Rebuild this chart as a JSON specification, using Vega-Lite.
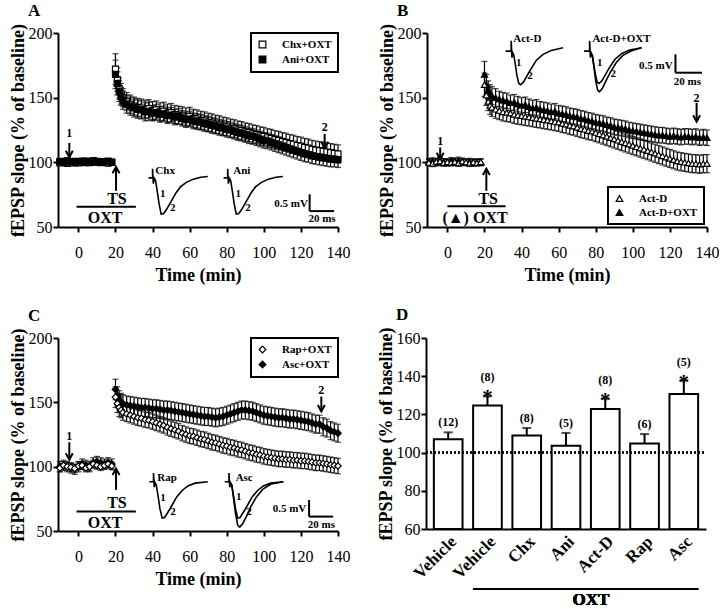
{
"$schema": "https://vega.github.io/schema/vega-lite/v6.json",
"padding": {"left": 9, "top": 2, "right": 0, "bottom": 0},
"config": {
 "font": "Liberation Serif",
 "view": {"stroke": null},
 "axis": {"domainColor": "black", "domainWidth": 2, "tickColor": "black", "tickWidth": 2, "tickSize": 5, "labelFont": "Liberation Serif", "labelFontSize": 16, "labelColor": "black", "labelOverlap": false, "labelFlush": false, "titleFont": "Liberation Serif", "titleFontSize": 18, "titleFontWeight": "bold", "titleColor": "black", "grid": false},
 "axisX": {"labelPadding": 12, "titlePadding": 6},
 "axisY": {"labelPadding": 1, "titlePadding": 1},
 "legend": {"labelFont": "Liberation Serif", "labelFontSize": 11, "labelFontWeight": "bold", "labelColor": "black", "strokeColor": "black", "strokeWidth": 2, "padding": 6, "symbolStrokeColor": "black", "symbolStrokeWidth": 1.2, "symbolSize": 45, "labelOffset": 14, "rowPadding": 2, "fillColor": "white"},
 "title": {"font": "Liberation Serif", "fontSize": 17, "fontWeight": "bold", "color": "black", "anchor": "start", "frame": "group", "dx": -30, "offset": 3},
 "text": {"font": "Liberation Serif", "fontWeight": "bold", "color": "black"}
},
"datasets": {
 "tsA": [
  {"s":"Chx+OXT","t":-10,"y":99.6,"e":2},{"s":"Chx+OXT","t":-8,"y":100.4,"e":2},{"s":"Chx+OXT","t":-6,"y":99.2,"e":2},{"s":"Chx+OXT","t":-4,"y":100.1,"e":2},{"s":"Chx+OXT","t":-2,"y":100.7,"e":2},{"s":"Chx+OXT","t":0,"y":99.5,"e":2},{"s":"Chx+OXT","t":2,"y":100.2,"e":2},{"s":"Chx+OXT","t":4,"y":100.9,"e":2},{"s":"Chx+OXT","t":6,"y":99.8,"e":2},{"s":"Chx+OXT","t":8,"y":100.3,"e":2},{"s":"Chx+OXT","t":10,"y":100.8,"e":2},{"s":"Chx+OXT","t":12,"y":99.9,"e":2},{"s":"Chx+OXT","t":14,"y":100.5,"e":2},{"s":"Chx+OXT","t":16,"y":99.4,"e":2},{"s":"Chx+OXT","t":18,"y":100,"e":2},
  {"s":"Chx+OXT","t":20,"y":172,"e":12},{"s":"Chx+OXT","t":21,"y":164,"e":9},{"s":"Chx+OXT","t":22,"y":157,"e":8},{"s":"Chx+OXT","t":23,"y":153,"e":8},{"s":"Chx+OXT","t":24,"y":150,"e":7},{"s":"Chx+OXT","t":26,"y":147,"e":7},{"s":"Chx+OXT","t":28,"y":145,"e":7},{"s":"Chx+OXT","t":30,"y":143.5,"e":7},{"s":"Chx+OXT","t":32,"y":142.5,"e":7},{"s":"Chx+OXT","t":34,"y":142,"e":7},{"s":"Chx+OXT","t":36,"y":141,"e":7},{"s":"Chx+OXT","t":38,"y":141.5,"e":7},{"s":"Chx+OXT","t":40,"y":140,"e":7},{"s":"Chx+OXT","t":42,"y":140.5,"e":7},{"s":"Chx+OXT","t":44,"y":139,"e":7},{"s":"Chx+OXT","t":46,"y":139.5,"e":7},{"s":"Chx+OXT","t":48,"y":138,"e":7},{"s":"Chx+OXT","t":50,"y":138.5,"e":7},{"s":"Chx+OXT","t":52,"y":137,"e":7},{"s":"Chx+OXT","t":54,"y":136.5,"e":7},{"s":"Chx+OXT","t":56,"y":136,"e":7},{"s":"Chx+OXT","t":58,"y":135,"e":7},{"s":"Chx+OXT","t":60,"y":135.5,"e":7},{"s":"Chx+OXT","t":62,"y":134,"e":7},{"s":"Chx+OXT","t":64,"y":133.5,"e":7},{"s":"Chx+OXT","t":66,"y":132.5,"e":7},{"s":"Chx+OXT","t":68,"y":132,"e":7},{"s":"Chx+OXT","t":70,"y":131,"e":7},{"s":"Chx+OXT","t":72,"y":130.5,"e":7},{"s":"Chx+OXT","t":74,"y":129.5,"e":7},{"s":"Chx+OXT","t":76,"y":129,"e":7},{"s":"Chx+OXT","t":78,"y":128,"e":7},{"s":"Chx+OXT","t":80,"y":127.5,"e":7},{"s":"Chx+OXT","t":82,"y":126.5,"e":7},{"s":"Chx+OXT","t":84,"y":126,"e":7},{"s":"Chx+OXT","t":86,"y":125,"e":7},{"s":"Chx+OXT","t":88,"y":124.5,"e":7},{"s":"Chx+OXT","t":90,"y":123.5,"e":7},{"s":"Chx+OXT","t":92,"y":123,"e":7},{"s":"Chx+OXT","t":94,"y":122,"e":7},{"s":"Chx+OXT","t":96,"y":121.5,"e":7},{"s":"Chx+OXT","t":98,"y":120.5,"e":7},{"s":"Chx+OXT","t":100,"y":120,"e":7},{"s":"Chx+OXT","t":102,"y":119,"e":7},{"s":"Chx+OXT","t":104,"y":118.5,"e":7},{"s":"Chx+OXT","t":106,"y":117.5,"e":7},{"s":"Chx+OXT","t":108,"y":117,"e":7},{"s":"Chx+OXT","t":110,"y":116,"e":7},{"s":"Chx+OXT","t":112,"y":115.5,"e":7},{"s":"Chx+OXT","t":114,"y":114.5,"e":7},{"s":"Chx+OXT","t":116,"y":114,"e":7},{"s":"Chx+OXT","t":118,"y":113,"e":7},{"s":"Chx+OXT","t":120,"y":112.5,"e":7},{"s":"Chx+OXT","t":122,"y":111.5,"e":7},{"s":"Chx+OXT","t":124,"y":111,"e":7},{"s":"Chx+OXT","t":126,"y":110,"e":7},{"s":"Chx+OXT","t":128,"y":109.5,"e":7},{"s":"Chx+OXT","t":130,"y":109,"e":7},{"s":"Chx+OXT","t":132,"y":108.5,"e":7},{"s":"Chx+OXT","t":134,"y":108,"e":7},{"s":"Chx+OXT","t":136,"y":107.5,"e":7},{"s":"Chx+OXT","t":138,"y":107,"e":7},{"s":"Chx+OXT","t":140,"y":106.5,"e":7},
  {"s":"Ani+OXT","t":-10,"y":100.8,"e":2},{"s":"Ani+OXT","t":-8,"y":100,"e":2},{"s":"Ani+OXT","t":-6,"y":101.2,"e":2},{"s":"Ani+OXT","t":-4,"y":100.3,"e":2},{"s":"Ani+OXT","t":-2,"y":99.6,"e":2},{"s":"Ani+OXT","t":0,"y":100.5,"e":2},{"s":"Ani+OXT","t":2,"y":101,"e":2},{"s":"Ani+OXT","t":4,"y":99.8,"e":2},{"s":"Ani+OXT","t":6,"y":100.6,"e":2},{"s":"Ani+OXT","t":8,"y":101.3,"e":2},{"s":"Ani+OXT","t":10,"y":100.1,"e":2},{"s":"Ani+OXT","t":12,"y":99.7,"e":2},{"s":"Ani+OXT","t":14,"y":100.4,"e":2},{"s":"Ani+OXT","t":16,"y":100.9,"e":2},{"s":"Ani+OXT","t":18,"y":100.2,"e":2},
  {"s":"Ani+OXT","t":20,"y":168,"e":11},{"s":"Ani+OXT","t":21,"y":161,"e":9},{"s":"Ani+OXT","t":22,"y":155,"e":8},{"s":"Ani+OXT","t":23,"y":151,"e":7},{"s":"Ani+OXT","t":24,"y":148,"e":7},{"s":"Ani+OXT","t":26,"y":145,"e":7},{"s":"Ani+OXT","t":28,"y":143.5,"e":7},{"s":"Ani+OXT","t":30,"y":142,"e":7},{"s":"Ani+OXT","t":32,"y":141,"e":7},{"s":"Ani+OXT","t":34,"y":140.5,"e":7},{"s":"Ani+OXT","t":36,"y":139,"e":7},{"s":"Ani+OXT","t":38,"y":139.5,"e":7},{"s":"Ani+OXT","t":40,"y":138,"e":6},{"s":"Ani+OXT","t":42,"y":138.5,"e":6},{"s":"Ani+OXT","t":44,"y":137,"e":6},{"s":"Ani+OXT","t":46,"y":137.5,"e":6},{"s":"Ani+OXT","t":48,"y":136,"e":6},{"s":"Ani+OXT","t":50,"y":136.5,"e":6},{"s":"Ani+OXT","t":52,"y":135,"e":6},{"s":"Ani+OXT","t":54,"y":135.5,"e":6},{"s":"Ani+OXT","t":56,"y":134,"e":6},{"s":"Ani+OXT","t":58,"y":133,"e":6},{"s":"Ani+OXT","t":60,"y":133.5,"e":6},{"s":"Ani+OXT","t":62,"y":132,"e":6},{"s":"Ani+OXT","t":64,"y":131.5,"e":6},{"s":"Ani+OXT","t":66,"y":131,"e":6},{"s":"Ani+OXT","t":68,"y":130,"e":6},{"s":"Ani+OXT","t":70,"y":129.5,"e":6},{"s":"Ani+OXT","t":72,"y":128.5,"e":6},{"s":"Ani+OXT","t":74,"y":128,"e":6},{"s":"Ani+OXT","t":76,"y":127,"e":6},{"s":"Ani+OXT","t":78,"y":126.5,"e":6},{"s":"Ani+OXT","t":80,"y":125.5,"e":6},{"s":"Ani+OXT","t":82,"y":125,"e":6},{"s":"Ani+OXT","t":84,"y":124,"e":6},{"s":"Ani+OXT","t":86,"y":123,"e":6},{"s":"Ani+OXT","t":88,"y":122.5,"e":6},{"s":"Ani+OXT","t":90,"y":121.5,"e":6},{"s":"Ani+OXT","t":92,"y":120.5,"e":6},{"s":"Ani+OXT","t":94,"y":120,"e":6},{"s":"Ani+OXT","t":96,"y":119,"e":6},{"s":"Ani+OXT","t":98,"y":118,"e":6},{"s":"Ani+OXT","t":100,"y":117,"e":6},{"s":"Ani+OXT","t":102,"y":116.5,"e":6},{"s":"Ani+OXT","t":104,"y":115.5,"e":6},{"s":"Ani+OXT","t":106,"y":114.5,"e":6},{"s":"Ani+OXT","t":108,"y":113.5,"e":6},{"s":"Ani+OXT","t":110,"y":112.5,"e":6},{"s":"Ani+OXT","t":112,"y":111.5,"e":6},{"s":"Ani+OXT","t":114,"y":110.5,"e":6},{"s":"Ani+OXT","t":116,"y":109.5,"e":6},{"s":"Ani+OXT","t":118,"y":108.5,"e":6},{"s":"Ani+OXT","t":120,"y":107.5,"e":6},{"s":"Ani+OXT","t":122,"y":106.5,"e":6},{"s":"Ani+OXT","t":124,"y":106,"e":6},{"s":"Ani+OXT","t":126,"y":105,"e":6},{"s":"Ani+OXT","t":128,"y":104.5,"e":6},{"s":"Ani+OXT","t":130,"y":104,"e":6},{"s":"Ani+OXT","t":132,"y":103.5,"e":6},{"s":"Ani+OXT","t":134,"y":103,"e":6},{"s":"Ani+OXT","t":136,"y":102.5,"e":6},{"s":"Ani+OXT","t":138,"y":102.5,"e":6},{"s":"Ani+OXT","t":140,"y":102,"e":6}
 ],
 "tsB": [
  {"s":"Act-D+OXT","t":-10,"y":100.5,"e":2.5},{"s":"Act-D+OXT","t":-8,"y":101,"e":2.5},{"s":"Act-D+OXT","t":-6,"y":99.8,"e":2.5},{"s":"Act-D+OXT","t":-4,"y":101.5,"e":2.5},{"s":"Act-D+OXT","t":-2,"y":100.4,"e":2.5},{"s":"Act-D+OXT","t":0,"y":99.6,"e":2.5},{"s":"Act-D+OXT","t":2,"y":101.2,"e":2.5},{"s":"Act-D+OXT","t":4,"y":100.8,"e":2.5},{"s":"Act-D+OXT","t":6,"y":101.5,"e":2.5},{"s":"Act-D+OXT","t":8,"y":100.3,"e":2.5},{"s":"Act-D+OXT","t":10,"y":99.9,"e":2.5},{"s":"Act-D+OXT","t":12,"y":100.6,"e":2.5},{"s":"Act-D+OXT","t":14,"y":99.5,"e":2.5},{"s":"Act-D+OXT","t":16,"y":100.2,"e":2.5},{"s":"Act-D+OXT","t":18,"y":99.8,"e":2.5},
  {"s":"Act-D+OXT","t":20,"y":168,"e":10},{"s":"Act-D+OXT","t":21,"y":160,"e":8},{"s":"Act-D+OXT","t":22,"y":156,"e":7},{"s":"Act-D+OXT","t":23,"y":153,"e":7},{"s":"Act-D+OXT","t":24,"y":151.5,"e":7},{"s":"Act-D+OXT","t":26,"y":150,"e":7},{"s":"Act-D+OXT","t":28,"y":149,"e":6},{"s":"Act-D+OXT","t":30,"y":148,"e":6},{"s":"Act-D+OXT","t":32,"y":147.5,"e":6},{"s":"Act-D+OXT","t":34,"y":146,"e":6},{"s":"Act-D+OXT","t":36,"y":146.5,"e":6},{"s":"Act-D+OXT","t":38,"y":145,"e":6},{"s":"Act-D+OXT","t":40,"y":144,"e":6},{"s":"Act-D+OXT","t":42,"y":144.5,"e":6},{"s":"Act-D+OXT","t":44,"y":143,"e":6},{"s":"Act-D+OXT","t":46,"y":142,"e":6},{"s":"Act-D+OXT","t":48,"y":142.5,"e":6},{"s":"Act-D+OXT","t":50,"y":141,"e":6},{"s":"Act-D+OXT","t":52,"y":140.5,"e":6},{"s":"Act-D+OXT","t":54,"y":140,"e":6},{"s":"Act-D+OXT","t":56,"y":139,"e":6},{"s":"Act-D+OXT","t":58,"y":139.5,"e":6},{"s":"Act-D+OXT","t":60,"y":138,"e":6},{"s":"Act-D+OXT","t":62,"y":137.5,"e":6},{"s":"Act-D+OXT","t":64,"y":137,"e":6},{"s":"Act-D+OXT","t":66,"y":136,"e":6},{"s":"Act-D+OXT","t":68,"y":135.5,"e":6},{"s":"Act-D+OXT","t":70,"y":135,"e":6},{"s":"Act-D+OXT","t":72,"y":134,"e":6},{"s":"Act-D+OXT","t":74,"y":133.5,"e":6},{"s":"Act-D+OXT","t":76,"y":132.5,"e":6},{"s":"Act-D+OXT","t":78,"y":132,"e":6},{"s":"Act-D+OXT","t":80,"y":131,"e":6},{"s":"Act-D+OXT","t":82,"y":130.5,"e":6},{"s":"Act-D+OXT","t":84,"y":130,"e":6},{"s":"Act-D+OXT","t":86,"y":129,"e":6},{"s":"Act-D+OXT","t":88,"y":128.5,"e":6},{"s":"Act-D+OXT","t":90,"y":127.5,"e":6},{"s":"Act-D+OXT","t":92,"y":127,"e":6},{"s":"Act-D+OXT","t":94,"y":126.5,"e":6},{"s":"Act-D+OXT","t":96,"y":126,"e":6},{"s":"Act-D+OXT","t":98,"y":125,"e":6},{"s":"Act-D+OXT","t":100,"y":124.5,"e":6},{"s":"Act-D+OXT","t":102,"y":124,"e":6},{"s":"Act-D+OXT","t":104,"y":123.5,"e":6},{"s":"Act-D+OXT","t":106,"y":123,"e":6},{"s":"Act-D+OXT","t":108,"y":122.5,"e":6},{"s":"Act-D+OXT","t":110,"y":122,"e":6},{"s":"Act-D+OXT","t":112,"y":121.5,"e":6},{"s":"Act-D+OXT","t":114,"y":121,"e":6},{"s":"Act-D+OXT","t":116,"y":121,"e":6},{"s":"Act-D+OXT","t":118,"y":120.5,"e":6},{"s":"Act-D+OXT","t":120,"y":120,"e":6},{"s":"Act-D+OXT","t":122,"y":120.5,"e":6},{"s":"Act-D+OXT","t":124,"y":120,"e":6},{"s":"Act-D+OXT","t":126,"y":119.5,"e":6},{"s":"Act-D+OXT","t":128,"y":120,"e":6},{"s":"Act-D+OXT","t":130,"y":120,"e":6},{"s":"Act-D+OXT","t":132,"y":119.5,"e":6},{"s":"Act-D+OXT","t":134,"y":120,"e":6},{"s":"Act-D+OXT","t":136,"y":119,"e":6},{"s":"Act-D+OXT","t":138,"y":119.5,"e":6},{"s":"Act-D+OXT","t":140,"y":119,"e":6},
  {"s":"Act-D","t":-10,"y":99.8,"e":2.5},{"s":"Act-D","t":-8,"y":99.2,"e":2.5},{"s":"Act-D","t":-6,"y":100.6,"e":2.5},{"s":"Act-D","t":-4,"y":100.9,"e":2.5},{"s":"Act-D","t":-2,"y":99.5,"e":2.5},{"s":"Act-D","t":0,"y":100.3,"e":2.5},{"s":"Act-D","t":2,"y":99.7,"e":2.5},{"s":"Act-D","t":4,"y":100.5,"e":2.5},{"s":"Act-D","t":6,"y":99.4,"e":2.5},{"s":"Act-D","t":8,"y":100.8,"e":2.5},{"s":"Act-D","t":10,"y":100.1,"e":2.5},{"s":"Act-D","t":12,"y":99.3,"e":2.5},{"s":"Act-D","t":14,"y":100.2,"e":2.5},{"s":"Act-D","t":16,"y":99.6,"e":2.5},{"s":"Act-D","t":18,"y":100.4,"e":2.5},
  {"s":"Act-D","t":20,"y":160,"e":9},{"s":"Act-D","t":21,"y":152,"e":8},{"s":"Act-D","t":22,"y":147,"e":7},{"s":"Act-D","t":23,"y":144,"e":7},{"s":"Act-D","t":24,"y":142.5,"e":7},{"s":"Act-D","t":26,"y":141,"e":7},{"s":"Act-D","t":28,"y":140,"e":7},{"s":"Act-D","t":30,"y":139,"e":7},{"s":"Act-D","t":32,"y":138.5,"e":7},{"s":"Act-D","t":34,"y":138,"e":7},{"s":"Act-D","t":36,"y":137,"e":7},{"s":"Act-D","t":38,"y":136.5,"e":7},{"s":"Act-D","t":40,"y":136,"e":7},{"s":"Act-D","t":42,"y":135.5,"e":7},{"s":"Act-D","t":44,"y":135,"e":7},{"s":"Act-D","t":46,"y":134.5,"e":7},{"s":"Act-D","t":48,"y":134,"e":7},{"s":"Act-D","t":50,"y":133.5,"e":7},{"s":"Act-D","t":52,"y":133,"e":7},{"s":"Act-D","t":54,"y":132.5,"e":7},{"s":"Act-D","t":56,"y":132,"e":7},{"s":"Act-D","t":58,"y":131.5,"e":7},{"s":"Act-D","t":60,"y":131,"e":7},{"s":"Act-D","t":62,"y":130,"e":7},{"s":"Act-D","t":64,"y":129.5,"e":7},{"s":"Act-D","t":66,"y":128.5,"e":7},{"s":"Act-D","t":68,"y":128,"e":7},{"s":"Act-D","t":70,"y":127,"e":7},{"s":"Act-D","t":72,"y":126,"e":7},{"s":"Act-D","t":74,"y":125.5,"e":7},{"s":"Act-D","t":76,"y":124.5,"e":7},{"s":"Act-D","t":78,"y":124,"e":7},{"s":"Act-D","t":80,"y":123,"e":7},{"s":"Act-D","t":82,"y":122,"e":7},{"s":"Act-D","t":84,"y":121,"e":7},{"s":"Act-D","t":86,"y":120,"e":7},{"s":"Act-D","t":88,"y":119,"e":7},{"s":"Act-D","t":90,"y":118,"e":7},{"s":"Act-D","t":92,"y":117,"e":7},{"s":"Act-D","t":94,"y":116,"e":7},{"s":"Act-D","t":96,"y":115,"e":7},{"s":"Act-D","t":98,"y":114,"e":7},{"s":"Act-D","t":100,"y":113,"e":7},{"s":"Act-D","t":102,"y":112,"e":7},{"s":"Act-D","t":104,"y":111,"e":7},{"s":"Act-D","t":106,"y":110,"e":7},{"s":"Act-D","t":108,"y":109,"e":7},{"s":"Act-D","t":110,"y":108,"e":7},{"s":"Act-D","t":112,"y":107,"e":7},{"s":"Act-D","t":114,"y":106,"e":7},{"s":"Act-D","t":116,"y":105,"e":7},{"s":"Act-D","t":118,"y":104,"e":7},{"s":"Act-D","t":120,"y":103,"e":7},{"s":"Act-D","t":122,"y":102,"e":7},{"s":"Act-D","t":124,"y":101,"e":7},{"s":"Act-D","t":126,"y":100.5,"e":7},{"s":"Act-D","t":128,"y":100,"e":7},{"s":"Act-D","t":130,"y":99.5,"e":7},{"s":"Act-D","t":132,"y":99,"e":7},{"s":"Act-D","t":134,"y":99,"e":7},{"s":"Act-D","t":136,"y":98.5,"e":7},{"s":"Act-D","t":138,"y":99,"e":7},{"s":"Act-D","t":140,"y":99,"e":7}
 ],
 "tsC": [
  {"s":"Asc+OXT","t":-10,"y":100,"e":4},{"s":"Asc+OXT","t":-8,"y":101,"e":4},{"s":"Asc+OXT","t":-6,"y":100,"e":4},{"s":"Asc+OXT","t":-4,"y":99,"e":4},{"s":"Asc+OXT","t":-2,"y":98,"e":4},{"s":"Asc+OXT","t":0,"y":100,"e":4},{"s":"Asc+OXT","t":2,"y":102,"e":4},{"s":"Asc+OXT","t":4,"y":101,"e":4},{"s":"Asc+OXT","t":6,"y":100,"e":4},{"s":"Asc+OXT","t":8,"y":103,"e":4},{"s":"Asc+OXT","t":10,"y":104,"e":4},{"s":"Asc+OXT","t":12,"y":103,"e":4},{"s":"Asc+OXT","t":14,"y":102,"e":4},{"s":"Asc+OXT","t":16,"y":103,"e":4},{"s":"Asc+OXT","t":18,"y":102,"e":4},
  {"s":"Asc+OXT","t":20,"y":160,"e":8},{"s":"Asc+OXT","t":21,"y":155,"e":7},{"s":"Asc+OXT","t":22,"y":152,"e":7},{"s":"Asc+OXT","t":23,"y":150,"e":7},{"s":"Asc+OXT","t":24,"y":149,"e":7},{"s":"Asc+OXT","t":26,"y":148,"e":7},{"s":"Asc+OXT","t":28,"y":147.5,"e":7},{"s":"Asc+OXT","t":30,"y":147,"e":7},{"s":"Asc+OXT","t":32,"y":146.5,"e":7},{"s":"Asc+OXT","t":34,"y":146,"e":7},{"s":"Asc+OXT","t":36,"y":146,"e":7},{"s":"Asc+OXT","t":38,"y":145.5,"e":7},{"s":"Asc+OXT","t":40,"y":145,"e":7},{"s":"Asc+OXT","t":42,"y":145,"e":7},{"s":"Asc+OXT","t":44,"y":144.5,"e":7},{"s":"Asc+OXT","t":46,"y":144,"e":7},{"s":"Asc+OXT","t":48,"y":144,"e":7},{"s":"Asc+OXT","t":50,"y":143.5,"e":7},{"s":"Asc+OXT","t":52,"y":143,"e":7},{"s":"Asc+OXT","t":54,"y":142.5,"e":7},{"s":"Asc+OXT","t":56,"y":142,"e":7},{"s":"Asc+OXT","t":58,"y":141.5,"e":7},{"s":"Asc+OXT","t":60,"y":141,"e":7},{"s":"Asc+OXT","t":62,"y":140.5,"e":7},{"s":"Asc+OXT","t":64,"y":140,"e":7},{"s":"Asc+OXT","t":66,"y":139.5,"e":7},{"s":"Asc+OXT","t":68,"y":139,"e":7},{"s":"Asc+OXT","t":70,"y":139,"e":7},{"s":"Asc+OXT","t":72,"y":138.5,"e":7},{"s":"Asc+OXT","t":74,"y":138,"e":7},{"s":"Asc+OXT","t":76,"y":138.5,"e":7},{"s":"Asc+OXT","t":78,"y":139,"e":7},{"s":"Asc+OXT","t":80,"y":140,"e":7},{"s":"Asc+OXT","t":82,"y":141,"e":7},{"s":"Asc+OXT","t":84,"y":142,"e":7},{"s":"Asc+OXT","t":86,"y":143,"e":7},{"s":"Asc+OXT","t":88,"y":144,"e":7},{"s":"Asc+OXT","t":90,"y":144,"e":7},{"s":"Asc+OXT","t":92,"y":143.5,"e":7},{"s":"Asc+OXT","t":94,"y":143,"e":7},{"s":"Asc+OXT","t":96,"y":142,"e":7},{"s":"Asc+OXT","t":98,"y":141,"e":7},{"s":"Asc+OXT","t":100,"y":140,"e":7},{"s":"Asc+OXT","t":102,"y":139.5,"e":7},{"s":"Asc+OXT","t":104,"y":139,"e":7},{"s":"Asc+OXT","t":106,"y":138.5,"e":7},{"s":"Asc+OXT","t":108,"y":138,"e":7},{"s":"Asc+OXT","t":110,"y":138,"e":7},{"s":"Asc+OXT","t":112,"y":137.5,"e":7},{"s":"Asc+OXT","t":114,"y":137,"e":7},{"s":"Asc+OXT","t":116,"y":137,"e":7},{"s":"Asc+OXT","t":118,"y":136.5,"e":7},{"s":"Asc+OXT","t":120,"y":136,"e":7},{"s":"Asc+OXT","t":122,"y":135.5,"e":7},{"s":"Asc+OXT","t":124,"y":135,"e":7},{"s":"Asc+OXT","t":126,"y":134,"e":7},{"s":"Asc+OXT","t":128,"y":133,"e":7},{"s":"Asc+OXT","t":130,"y":133,"e":7},{"s":"Asc+OXT","t":132,"y":131,"e":7},{"s":"Asc+OXT","t":134,"y":130,"e":7},{"s":"Asc+OXT","t":136,"y":128,"e":7},{"s":"Asc+OXT","t":138,"y":127,"e":7},{"s":"Asc+OXT","t":140,"y":126,"e":7},
  {"s":"Rap+OXT","t":-10,"y":99,"e":3},{"s":"Rap+OXT","t":-8,"y":101,"e":3},{"s":"Rap+OXT","t":-6,"y":100,"e":3},{"s":"Rap+OXT","t":-4,"y":99.5,"e":3},{"s":"Rap+OXT","t":-2,"y":98.5,"e":3},{"s":"Rap+OXT","t":0,"y":100.5,"e":3},{"s":"Rap+OXT","t":2,"y":101,"e":3},{"s":"Rap+OXT","t":4,"y":99,"e":3},{"s":"Rap+OXT","t":6,"y":100,"e":3},{"s":"Rap+OXT","t":8,"y":102,"e":3},{"s":"Rap+OXT","t":10,"y":101,"e":3},{"s":"Rap+OXT","t":12,"y":100,"e":3},{"s":"Rap+OXT","t":14,"y":101,"e":3},{"s":"Rap+OXT","t":16,"y":102,"e":3},{"s":"Rap+OXT","t":18,"y":100.5,"e":3},
  {"s":"Rap+OXT","t":20,"y":154,"e":8},{"s":"Rap+OXT","t":21,"y":149,"e":7},{"s":"Rap+OXT","t":22,"y":146,"e":7},{"s":"Rap+OXT","t":23,"y":144,"e":6},{"s":"Rap+OXT","t":24,"y":142,"e":6},{"s":"Rap+OXT","t":26,"y":141,"e":6},{"s":"Rap+OXT","t":28,"y":140,"e":6},{"s":"Rap+OXT","t":30,"y":139,"e":6},{"s":"Rap+OXT","t":32,"y":138,"e":6},{"s":"Rap+OXT","t":34,"y":137.5,"e":6},{"s":"Rap+OXT","t":36,"y":136.5,"e":6},{"s":"Rap+OXT","t":38,"y":136,"e":6},{"s":"Rap+OXT","t":40,"y":135,"e":6},{"s":"Rap+OXT","t":42,"y":134,"e":6},{"s":"Rap+OXT","t":44,"y":133,"e":6},{"s":"Rap+OXT","t":46,"y":132,"e":6},{"s":"Rap+OXT","t":48,"y":130.5,"e":6},{"s":"Rap+OXT","t":50,"y":129.5,"e":6},{"s":"Rap+OXT","t":52,"y":128.5,"e":6},{"s":"Rap+OXT","t":54,"y":127.5,"e":6},{"s":"Rap+OXT","t":56,"y":126,"e":6},{"s":"Rap+OXT","t":58,"y":125,"e":6},{"s":"Rap+OXT","t":60,"y":124,"e":6},{"s":"Rap+OXT","t":62,"y":123.5,"e":6},{"s":"Rap+OXT","t":64,"y":122.5,"e":6},{"s":"Rap+OXT","t":66,"y":121.5,"e":6},{"s":"Rap+OXT","t":68,"y":121,"e":6},{"s":"Rap+OXT","t":70,"y":120,"e":6},{"s":"Rap+OXT","t":72,"y":119,"e":6},{"s":"Rap+OXT","t":74,"y":118.5,"e":6},{"s":"Rap+OXT","t":76,"y":117.5,"e":6},{"s":"Rap+OXT","t":78,"y":116.5,"e":6},{"s":"Rap+OXT","t":80,"y":116,"e":6},{"s":"Rap+OXT","t":82,"y":115,"e":6},{"s":"Rap+OXT","t":84,"y":114.5,"e":6},{"s":"Rap+OXT","t":86,"y":113.5,"e":6},{"s":"Rap+OXT","t":88,"y":113,"e":6},{"s":"Rap+OXT","t":90,"y":112,"e":6},{"s":"Rap+OXT","t":92,"y":111,"e":6},{"s":"Rap+OXT","t":94,"y":110.5,"e":6},{"s":"Rap+OXT","t":96,"y":109.5,"e":6},{"s":"Rap+OXT","t":98,"y":109,"e":6},{"s":"Rap+OXT","t":100,"y":108,"e":6},{"s":"Rap+OXT","t":102,"y":107.5,"e":6},{"s":"Rap+OXT","t":104,"y":107,"e":6},{"s":"Rap+OXT","t":106,"y":106.5,"e":6},{"s":"Rap+OXT","t":108,"y":106,"e":6},{"s":"Rap+OXT","t":110,"y":106,"e":6},{"s":"Rap+OXT","t":112,"y":105.5,"e":6},{"s":"Rap+OXT","t":114,"y":105.5,"e":6},{"s":"Rap+OXT","t":116,"y":105,"e":6},{"s":"Rap+OXT","t":118,"y":105,"e":6},{"s":"Rap+OXT","t":120,"y":104.5,"e":6},{"s":"Rap+OXT","t":122,"y":104.5,"e":6},{"s":"Rap+OXT","t":124,"y":104,"e":6},{"s":"Rap+OXT","t":126,"y":103.5,"e":6},{"s":"Rap+OXT","t":128,"y":103,"e":6},{"s":"Rap+OXT","t":130,"y":103,"e":6},{"s":"Rap+OXT","t":132,"y":102.5,"e":6},{"s":"Rap+OXT","t":134,"y":102,"e":6},{"s":"Rap+OXT","t":136,"y":101.5,"e":6},{"s":"Rap+OXT","t":138,"y":101,"e":6},{"s":"Rap+OXT","t":140,"y":100.5,"e":6}
 ],
 "ann": [
  {"p":"A","k":"seg","t":-4.9,"y":115,"t2":-4.9,"y2":104},{"p":"A","k":"seg","t":132.8,"y":122,"t2":132.8,"y2":111},{"p":"A","k":"seg","t":20.3,"y":78,"t2":20.3,"y2":96.5},{"p":"A","k":"seg","t":-1,"y":65.7,"t2":31,"y2":65.7},{"p":"A","k":"seg","t":124.7,"y":75.3,"t2":124.7,"y2":62.3},{"p":"A","k":"seg","t":124.7,"y":62.3,"t2":137.9,"y2":62.3},
  {"p":"A","k":"hd","t":-4.9,"y":104},{"p":"A","k":"hd","t":132.8,"y":111},{"p":"A","k":"hu","t":20.3,"y":96.5},
  {"p":"A","k":"n","t":-4.9,"y":123,"txt":"1"},{"p":"A","k":"n","t":132.8,"y":127,"txt":"2"},
  {"p":"A","k":"big","t":20.8,"y":72,"txt":"TS"},{"p":"A","k":"big","t":14.4,"y":57,"txt":"OXT"},
  {"p":"A","k":"sl","t":41.5,"y":93.5,"txt":"Chx"},{"p":"A","k":"sl","t":83.5,"y":93.5,"txt":"Ani"},
  {"p":"A","k":"sc","t":45.5,"y":75.3,"txt":"1"},{"p":"A","k":"sc","t":50.9,"y":65,"txt":"2"},{"p":"A","k":"sc","t":86.2,"y":75.3,"txt":"1"},{"p":"A","k":"sc","t":91.4,"y":65,"txt":"2"},{"p":"A","k":"sc","t":131.4,"y":56,"txt":"20 ms"},
  {"p":"A","k":"sr","t":123.8,"y":68,"txt":"0.5 mV"},
  {"p":"A","k":"tr","g":"A1","t":37.8,"y":88},{"p":"A","k":"tr","g":"A1","t":40,"y":88},{"p":"A","k":"tr","g":"A1","t":40,"y":95},{"p":"A","k":"tr","g":"A1","t":40.4,"y":83.5},{"p":"A","k":"tr","g":"A1","t":41,"y":87.5},{"p":"A","k":"tr","g":"A1","t":41.6,"y":86},{"p":"A","k":"tr","g":"A1","t":42.5,"y":78},{"p":"A","k":"tr","g":"A1","t":43.5,"y":68},{"p":"A","k":"tr","g":"A1","t":44.6,"y":60},{"p":"A","k":"tr","g":"A1","t":46,"y":60.5},{"p":"A","k":"tr","g":"A1","t":47.5,"y":63.5},{"p":"A","k":"tr","g":"A1","t":49.1,"y":67.5},{"p":"A","k":"tr","g":"A1","t":52.7,"y":76.5},{"p":"A","k":"tr","g":"A1","t":55,"y":81},{"p":"A","k":"tr","g":"A1","t":58.2,"y":84.5},{"p":"A","k":"tr","g":"A1","t":62,"y":87},{"p":"A","k":"tr","g":"A1","t":66,"y":88.5},{"p":"A","k":"tr","g":"A1","t":69.8,"y":89},
  {"p":"A","k":"tr","g":"A2","t":78.3,"y":88},{"p":"A","k":"tr","g":"A2","t":80.5,"y":88},{"p":"A","k":"tr","g":"A2","t":80.5,"y":95},{"p":"A","k":"tr","g":"A2","t":80.9,"y":83.5},{"p":"A","k":"tr","g":"A2","t":81.5,"y":87.5},{"p":"A","k":"tr","g":"A2","t":82.1,"y":86},{"p":"A","k":"tr","g":"A2","t":83,"y":78},{"p":"A","k":"tr","g":"A2","t":84,"y":68},{"p":"A","k":"tr","g":"A2","t":85.1,"y":60},{"p":"A","k":"tr","g":"A2","t":86.5,"y":60.5},{"p":"A","k":"tr","g":"A2","t":88,"y":63.5},{"p":"A","k":"tr","g":"A2","t":89.6,"y":67.5},{"p":"A","k":"tr","g":"A2","t":93.2,"y":76.5},{"p":"A","k":"tr","g":"A2","t":95.5,"y":81},{"p":"A","k":"tr","g":"A2","t":98.7,"y":84.5},{"p":"A","k":"tr","g":"A2","t":102.5,"y":87},{"p":"A","k":"tr","g":"A2","t":106.5,"y":88.5},{"p":"A","k":"tr","g":"A2","t":110.3,"y":89},
  {"p":"B","k":"seg","t":-3.9,"y":111.5,"t2":-3.9,"y2":102.5},{"p":"B","k":"seg","t":134.4,"y":146,"t2":134.4,"y2":131.5},{"p":"B","k":"seg","t":21,"y":78,"t2":21,"y2":95},{"p":"B","k":"seg","t":0,"y":66,"t2":31.4,"y2":66},{"p":"B","k":"seg","t":123,"y":183.5,"t2":123,"y2":169.3},{"p":"B","k":"seg","t":123,"y":169.3,"t2":137.3,"y2":169.3},
  {"p":"B","k":"hd","t":-3.9,"y":102.5},{"p":"B","k":"hd","t":134.4,"y":131.5},{"p":"B","k":"hu","t":21,"y":95},
  {"p":"B","k":"n","t":-3.9,"y":116.5,"txt":"1"},{"p":"B","k":"n","t":134.4,"y":150,"txt":"2"},
  {"p":"B","k":"big","t":22,"y":71.4,"txt":"TS"},{"p":"B","k":"big","t":14.9,"y":57.2,"txt":"(▲) OXT"},
  {"p":"B","k":"sl","t":35.5,"y":195,"txt":"Act-D"},{"p":"B","k":"sl","t":78.2,"y":195,"txt":"Act-D+OXT"},
  {"p":"B","k":"sc","t":38.5,"y":177,"txt":"1"},{"p":"B","k":"sc","t":44.5,"y":166.7,"txt":"2"},{"p":"B","k":"sc","t":82.1,"y":177,"txt":"1"},{"p":"B","k":"sc","t":89.5,"y":168,"txt":"2"},{"p":"B","k":"sc","t":129.4,"y":162,"txt":"20 ms"},
  {"p":"B","k":"sr","t":121.5,"y":174.5,"txt":"0.5 mV"},
  {"p":"B","k":"tr","g":"B1","t":31.4,"y":186},{"p":"B","k":"tr","g":"B1","t":34.4,"y":186},{"p":"B","k":"tr","g":"B1","t":34.4,"y":194},{"p":"B","k":"tr","g":"B1","t":34.8,"y":181},{"p":"B","k":"tr","g":"B1","t":35.3,"y":184.5},{"p":"B","k":"tr","g":"B1","t":35.8,"y":183},{"p":"B","k":"tr","g":"B1","t":36.6,"y":176},{"p":"B","k":"tr","g":"B1","t":37.5,"y":167},{"p":"B","k":"tr","g":"B1","t":38.5,"y":161},{"p":"B","k":"tr","g":"B1","t":39.5,"y":160},{"p":"B","k":"tr","g":"B1","t":41,"y":162},{"p":"B","k":"tr","g":"B1","t":43,"y":167},{"p":"B","k":"tr","g":"B1","t":45,"y":172},{"p":"B","k":"tr","g":"B1","t":48,"y":179},{"p":"B","k":"tr","g":"B1","t":51.6,"y":183.5},{"p":"B","k":"tr","g":"B1","t":56,"y":186.5},{"p":"B","k":"tr","g":"B1","t":62.4,"y":188.6},
  {"p":"B","k":"tr","g":"B2","t":73.7,"y":186},{"p":"B","k":"tr","g":"B2","t":76.7,"y":186},{"p":"B","k":"tr","g":"B2","t":76.7,"y":194},{"p":"B","k":"tr","g":"B2","t":77.1,"y":181},{"p":"B","k":"tr","g":"B2","t":77.6,"y":184.5},{"p":"B","k":"tr","g":"B2","t":78.1,"y":183},{"p":"B","k":"tr","g":"B2","t":78.9,"y":176},{"p":"B","k":"tr","g":"B2","t":79.8,"y":168},{"p":"B","k":"tr","g":"B2","t":80.8,"y":162},{"p":"B","k":"tr","g":"B2","t":81.8,"y":161},{"p":"B","k":"tr","g":"B2","t":83.3,"y":163},{"p":"B","k":"tr","g":"B2","t":85.3,"y":168},{"p":"B","k":"tr","g":"B2","t":87.3,"y":173},{"p":"B","k":"tr","g":"B2","t":90.3,"y":179.5},{"p":"B","k":"tr","g":"B2","t":93.9,"y":184},{"p":"B","k":"tr","g":"B2","t":98.3,"y":186.8},{"p":"B","k":"tr","g":"B2","t":104.7,"y":188.6},
  {"p":"B","k":"tr","g":"B3","t":78.1,"y":183},{"p":"B","k":"tr","g":"B3","t":79,"y":174},{"p":"B","k":"tr","g":"B3","t":80,"y":163},{"p":"B","k":"tr","g":"B3","t":81,"y":156},{"p":"B","k":"tr","g":"B3","t":82,"y":154.5},{"p":"B","k":"tr","g":"B3","t":83.5,"y":157},{"p":"B","k":"tr","g":"B3","t":85.5,"y":163},{"p":"B","k":"tr","g":"B3","t":88,"y":170},{"p":"B","k":"tr","g":"B3","t":91,"y":177},{"p":"B","k":"tr","g":"B3","t":94.5,"y":182.5},{"p":"B","k":"tr","g":"B3","t":99,"y":186},{"p":"B","k":"tr","g":"B3","t":104.7,"y":188.6},
  {"p":"C","k":"seg","t":-4.9,"y":119,"t2":-4.9,"y2":105.5},{"p":"C","k":"seg","t":131,"y":154.5,"t2":131,"y2":143},{"p":"C","k":"seg","t":20.3,"y":82,"t2":20.3,"y2":98.5},{"p":"C","k":"seg","t":-1,"y":65.1,"t2":31,"y2":65.1},{"p":"C","k":"seg","t":124.4,"y":74.1,"t2":124.4,"y2":61.2},{"p":"C","k":"seg","t":124.4,"y":61.2,"t2":137.4,"y2":61.2},
  {"p":"C","k":"hd","t":-4.9,"y":105.5},{"p":"C","k":"hd","t":131,"y":143},{"p":"C","k":"hu","t":20.3,"y":98.5},
  {"p":"C","k":"n","t":-4.9,"y":123.5,"txt":"1"},{"p":"C","k":"n","t":131,"y":159.6,"txt":"2"},
  {"p":"C","k":"big","t":20.8,"y":71.6,"txt":"TS"},{"p":"C","k":"big","t":14.4,"y":56.5,"txt":"OXT"},
  {"p":"C","k":"sl","t":42.5,"y":91.5,"txt":"Rap"},{"p":"C","k":"sl","t":84.8,"y":91.5,"txt":"Asc"},
  {"p":"C","k":"sc","t":45.6,"y":75.5,"txt":"1"},{"p":"C","k":"sc","t":51,"y":65.1,"txt":"2"},{"p":"C","k":"sc","t":86.5,"y":76.8,"txt":"1"},{"p":"C","k":"sc","t":92,"y":65,"txt":"2"},{"p":"C","k":"sc","t":131,"y":54.7,"txt":"20 ms"},
  {"p":"C","k":"sr","t":122.9,"y":66.9,"txt":"0.5 mV"},
  {"p":"C","k":"tr","g":"C1","t":38.2,"y":88.3},{"p":"C","k":"tr","g":"C1","t":40.5,"y":88.3},{"p":"C","k":"tr","g":"C1","t":40.5,"y":95},{"p":"C","k":"tr","g":"C1","t":40.9,"y":84},{"p":"C","k":"tr","g":"C1","t":41.4,"y":87.5},{"p":"C","k":"tr","g":"C1","t":42,"y":86},{"p":"C","k":"tr","g":"C1","t":43,"y":77},{"p":"C","k":"tr","g":"C1","t":44,"y":67},{"p":"C","k":"tr","g":"C1","t":45.2,"y":60},{"p":"C","k":"tr","g":"C1","t":46.5,"y":60.5},{"p":"C","k":"tr","g":"C1","t":48,"y":64},{"p":"C","k":"tr","g":"C1","t":49.5,"y":67.5},{"p":"C","k":"tr","g":"C1","t":53,"y":76.5},{"p":"C","k":"tr","g":"C1","t":56,"y":81.5},{"p":"C","k":"tr","g":"C1","t":59,"y":85},{"p":"C","k":"tr","g":"C1","t":63,"y":87.2},{"p":"C","k":"tr","g":"C1","t":69.8,"y":88.3},
  {"p":"C","k":"tr","g":"C2","t":78.9,"y":88.3},{"p":"C","k":"tr","g":"C2","t":81.2,"y":88.3},{"p":"C","k":"tr","g":"C2","t":81.2,"y":95},{"p":"C","k":"tr","g":"C2","t":81.6,"y":84},{"p":"C","k":"tr","g":"C2","t":82.1,"y":87.5},{"p":"C","k":"tr","g":"C2","t":82.7,"y":86},{"p":"C","k":"tr","g":"C2","t":83.7,"y":77},{"p":"C","k":"tr","g":"C2","t":84.7,"y":67.5},{"p":"C","k":"tr","g":"C2","t":85.9,"y":60},{"p":"C","k":"tr","g":"C2","t":87.2,"y":60.5},{"p":"C","k":"tr","g":"C2","t":88.7,"y":64},{"p":"C","k":"tr","g":"C2","t":90.2,"y":67.5},{"p":"C","k":"tr","g":"C2","t":93.7,"y":76.5},{"p":"C","k":"tr","g":"C2","t":96.7,"y":81.5},{"p":"C","k":"tr","g":"C2","t":99.7,"y":85},{"p":"C","k":"tr","g":"C2","t":103.7,"y":87.2},{"p":"C","k":"tr","g":"C2","t":110.5,"y":88.3},
  {"p":"C","k":"tr","g":"C3","t":82.7,"y":86},{"p":"C","k":"tr","g":"C3","t":83.7,"y":75},{"p":"C","k":"tr","g":"C3","t":84.7,"y":64},{"p":"C","k":"tr","g":"C3","t":85.9,"y":54.5},{"p":"C","k":"tr","g":"C3","t":87,"y":53},{"p":"C","k":"tr","g":"C3","t":88.5,"y":55.5},{"p":"C","k":"tr","g":"C3","t":90.5,"y":61},{"p":"C","k":"tr","g":"C3","t":93,"y":69},{"p":"C","k":"tr","g":"C3","t":96,"y":76.5},{"p":"C","k":"tr","g":"C3","t":99.5,"y":82.5},{"p":"C","k":"tr","g":"C3","t":104,"y":86.5},{"p":"C","k":"tr","g":"C3","t":110.5,"y":88.3}
 ],
 "bars": [
  {"g":"Vehicle","m":107,"hi":110.6,"n":"(12)","star":false},
  {"g":"Vehicle+OXT","m":124.6,"hi":129.5,"n":"(8)","star":true},
  {"g":"Chx","m":109,"hi":112.9,"n":"(8)","star":false},
  {"g":"Ani","m":103.6,"hi":110.3,"n":"(5)","star":false},
  {"g":"Act-D","m":122.8,"hi":128.2,"n":"(8)","star":true},
  {"g":"Rap","m":104.7,"hi":109.7,"n":"(6)","star":false},
  {"g":"Asc","m":130.7,"hi":137.7,"n":"(5)","star":true}
 ]
},
"resolve": {"scale": {"fill": "independent", "shape": "independent", "stroke": "independent", "x": "independent", "y": "independent"}, "legend": {"fill": "independent", "shape": "independent", "stroke": "independent"}},
"spacing": 21,
"vconcat": [
 {
  "spacing": 28,
  "resolve": {"scale": {"fill": "independent", "shape": "independent", "stroke": "independent", "x": "independent", "y": "independent"}, "legend": {"fill": "independent", "shape": "independent", "stroke": "independent"}},
  "hconcat": [
   {
    "title": "A", "width": 280, "height": 194,
    "encoding": {
     "x": {"field": "t", "type": "quantitative", "scale": {"domain": [-11, 140], "nice": false, "zero": false}, "axis": {"values": [0, 20, 40, 60, 80, 100, 120, 140], "title": "Time (min)"}},
     "y": {"field": "y", "type": "quantitative", "scale": {"domain": [50, 200], "nice": false, "zero": false}, "axis": {"values": [50, 100, 150, 200], "title": "fEPSP slope (% of baseline)"}}
    },
    "layer": [
     {"data": {"values": [{}]}, "mark": {"type": "rule", "strokeDash": [2, 2], "strokeWidth": 1.5, "color": "black"}, "encoding": {"x": {"datum": 20, "type": "quantitative"}, "x2": {"datum": 140}, "y": {"datum": 100, "type": "quantitative"}}},
     {"data": {"name": "ann"}, "transform": [{"filter": "datum.p=='A' && datum.k=='seg'"}], "mark": {"type": "rule", "strokeWidth": 2, "color": "black"}, "encoding": {"x2": {"field": "t2"}, "y2": {"field": "y2"}}},
     {"data": {"name": "ann"}, "transform": [{"filter": "datum.p=='A' && datum.k=='tr'"}], "mark": {"type": "line", "strokeWidth": 1.6, "color": "black"}, "encoding": {"detail": {"field": "g"}, "order": {"value": null}}},
     {"data": {"name": "ann"}, "transform": [{"filter": "datum.p=='A' && datum.k=='hd'"}], "mark": {"type": "point", "shape": "M-1,-1.8L0,0L1,-1.8", "size": 49, "filled": false, "stroke": "black", "strokeWidth": 2, "opacity": 1}},
     {"data": {"name": "ann"}, "transform": [{"filter": "datum.p=='A' && datum.k=='hu'"}], "mark": {"type": "point", "shape": "M-1,1.8L0,0L1,1.8", "size": 49, "filled": false, "stroke": "black", "strokeWidth": 2, "opacity": 1}},
     {"data": {"name": "tsA"}, "mark": {"type": "errorbar", "ticks": {"size": 6, "thickness": 1.2}, "thickness": 1.2, "color": "black"}, "encoding": {"yError": {"field": "e"}}},
     {"data": {"name": "tsA"}, "mark": {"type": "point", "filled": true, "strokeWidth": 1.2, "size": 36, "opacity": 1}, "encoding": {
       "fill": {"field": "s", "type": "nominal", "scale": {"domain": ["Chx+OXT", "Ani+OXT"], "range": ["white", "black"]}, "legend": {"title": null, "orient": "top-right", "offset": 0}},
       "stroke": {"field": "s", "type": "nominal", "scale": {"domain": ["Chx+OXT", "Ani+OXT"], "range": ["black", "black"]}, "legend": {"title": null, "orient": "top-right", "offset": 0}},
       "shape": {"field": "s", "type": "nominal", "scale": {"domain": ["Chx+OXT", "Ani+OXT"], "range": ["square", "square"]}, "legend": {"title": null, "orient": "top-right", "offset": 0}}}},
     {"data": {"name": "ann"}, "transform": [{"filter": "datum.p=='A' && datum.k=='big'"}], "mark": {"type": "text", "fontSize": 16, "align": "center", "baseline": "middle"}, "encoding": {"text": {"field": "txt"}}},
     {"data": {"name": "ann"}, "transform": [{"filter": "datum.p=='A' && datum.k=='n'"}], "mark": {"type": "text", "fontSize": 12, "align": "center", "baseline": "middle"}, "encoding": {"text": {"field": "txt"}}},
     {"data": {"name": "ann"}, "transform": [{"filter": "datum.p=='A' && datum.k=='sc'"}], "mark": {"type": "text", "fontSize": 11, "align": "center", "baseline": "middle"}, "encoding": {"text": {"field": "txt"}}},
     {"data": {"name": "ann"}, "transform": [{"filter": "datum.p=='A' && datum.k=='sl'"}], "mark": {"type": "text", "fontSize": 11, "align": "left", "baseline": "middle"}, "encoding": {"text": {"field": "txt"}}},
     {"data": {"name": "ann"}, "transform": [{"filter": "datum.p=='A' && datum.k=='sr'"}], "mark": {"type": "text", "fontSize": 11, "align": "right", "baseline": "middle"}, "encoding": {"text": {"field": "txt"}}}
    ]
   },
   {
    "title": "B", "width": 280, "height": 194,
    "encoding": {
     "x": {"field": "t", "type": "quantitative", "scale": {"domain": [-11, 140], "nice": false, "zero": false}, "axis": {"values": [0, 20, 40, 60, 80, 100, 120, 140], "title": "Time (min)"}},
     "y": {"field": "y", "type": "quantitative", "scale": {"domain": [50, 200], "nice": false, "zero": false}, "axis": {"values": [50, 100, 150, 200], "title": "fEPSP slope (% of baseline)"}}
    },
    "layer": [
     {"data": {"values": [{}]}, "mark": {"type": "rule", "strokeDash": [2, 2], "strokeWidth": 1.5, "color": "black"}, "encoding": {"x": {"datum": 20, "type": "quantitative"}, "x2": {"datum": 140}, "y": {"datum": 100, "type": "quantitative"}}},
     {"data": {"name": "ann"}, "transform": [{"filter": "datum.p=='B' && datum.k=='seg'"}], "mark": {"type": "rule", "strokeWidth": 2, "color": "black"}, "encoding": {"x2": {"field": "t2"}, "y2": {"field": "y2"}}},
     {"data": {"name": "ann"}, "transform": [{"filter": "datum.p=='B' && datum.k=='tr'"}], "mark": {"type": "line", "strokeWidth": 1.6, "color": "black"}, "encoding": {"detail": {"field": "g"}, "order": {"value": null}}},
     {"data": {"name": "ann"}, "transform": [{"filter": "datum.p=='B' && datum.k=='hd'"}], "mark": {"type": "point", "shape": "M-1,-1.8L0,0L1,-1.8", "size": 49, "filled": false, "stroke": "black", "strokeWidth": 2, "opacity": 1}},
     {"data": {"name": "ann"}, "transform": [{"filter": "datum.p=='B' && datum.k=='hu'"}], "mark": {"type": "point", "shape": "M-1,1.8L0,0L1,1.8", "size": 49, "filled": false, "stroke": "black", "strokeWidth": 2, "opacity": 1}},
     {"data": {"name": "tsB"}, "mark": {"type": "errorbar", "ticks": {"size": 6, "thickness": 1.2}, "thickness": 1.2, "color": "black"}, "encoding": {"yError": {"field": "e"}}},
     {"data": {"name": "tsB"}, "mark": {"type": "point", "filled": true, "strokeWidth": 1.2, "size": 38, "opacity": 1}, "encoding": {
       "fill": {"field": "s", "type": "nominal", "scale": {"domain": ["Act-D", "Act-D+OXT"], "range": ["white", "black"]}, "legend": {"title": null, "orient": "bottom-right", "offset": 3}},
       "stroke": {"field": "s", "type": "nominal", "scale": {"domain": ["Act-D", "Act-D+OXT"], "range": ["black", "black"]}, "legend": {"title": null, "orient": "bottom-right", "offset": 3}},
       "shape": {"field": "s", "type": "nominal", "scale": {"domain": ["Act-D", "Act-D+OXT"], "range": ["triangle-up", "triangle-up"]}, "legend": {"title": null, "orient": "bottom-right", "offset": 3}}}},
     {"data": {"name": "ann"}, "transform": [{"filter": "datum.p=='B' && datum.k=='big'"}], "mark": {"type": "text", "fontSize": 16, "align": "center", "baseline": "middle"}, "encoding": {"text": {"field": "txt"}}},
     {"data": {"name": "ann"}, "transform": [{"filter": "datum.p=='B' && datum.k=='n'"}], "mark": {"type": "text", "fontSize": 12, "align": "center", "baseline": "middle"}, "encoding": {"text": {"field": "txt"}}},
     {"data": {"name": "ann"}, "transform": [{"filter": "datum.p=='B' && datum.k=='sc'"}], "mark": {"type": "text", "fontSize": 11, "align": "center", "baseline": "middle"}, "encoding": {"text": {"field": "txt"}}},
     {"data": {"name": "ann"}, "transform": [{"filter": "datum.p=='B' && datum.k=='sl'"}], "mark": {"type": "text", "fontSize": 11, "align": "left", "baseline": "middle"}, "encoding": {"text": {"field": "txt"}}},
     {"data": {"name": "ann"}, "transform": [{"filter": "datum.p=='B' && datum.k=='sr'"}], "mark": {"type": "text", "fontSize": 11, "align": "right", "baseline": "middle"}, "encoding": {"text": {"field": "txt"}}}
    ]
   }
  ]
 },
 {
  "spacing": 27,
  "resolve": {"scale": {"fill": "independent", "shape": "independent", "stroke": "independent", "x": "independent", "y": "independent"}, "legend": {"fill": "independent", "shape": "independent", "stroke": "independent"}},
  "hconcat": [
   {
    "title": "C", "width": 280, "height": 193,
    "encoding": {
     "x": {"field": "t", "type": "quantitative", "scale": {"domain": [-11, 140], "nice": false, "zero": false}, "axis": {"values": [0, 20, 40, 60, 80, 100, 120, 140], "title": "Time (min)"}},
     "y": {"field": "y", "type": "quantitative", "scale": {"domain": [50, 200], "nice": false, "zero": false}, "axis": {"values": [50, 100, 150, 200], "title": "fEPSP slope (% of baseline)"}}
    },
    "layer": [
     {"data": {"values": [{}]}, "mark": {"type": "rule", "strokeDash": [2, 2], "strokeWidth": 1.5, "color": "black"}, "encoding": {"x": {"datum": 20, "type": "quantitative"}, "x2": {"datum": 140}, "y": {"datum": 100, "type": "quantitative"}}},
     {"data": {"name": "ann"}, "transform": [{"filter": "datum.p=='C' && datum.k=='seg'"}], "mark": {"type": "rule", "strokeWidth": 2, "color": "black"}, "encoding": {"x2": {"field": "t2"}, "y2": {"field": "y2"}}},
     {"data": {"name": "ann"}, "transform": [{"filter": "datum.p=='C' && datum.k=='tr'"}], "mark": {"type": "line", "strokeWidth": 1.6, "color": "black"}, "encoding": {"detail": {"field": "g"}, "order": {"value": null}}},
     {"data": {"name": "ann"}, "transform": [{"filter": "datum.p=='C' && datum.k=='hd'"}], "mark": {"type": "point", "shape": "M-1,-1.8L0,0L1,-1.8", "size": 49, "filled": false, "stroke": "black", "strokeWidth": 2, "opacity": 1}},
     {"data": {"name": "ann"}, "transform": [{"filter": "datum.p=='C' && datum.k=='hu'"}], "mark": {"type": "point", "shape": "M-1,1.8L0,0L1,1.8", "size": 49, "filled": false, "stroke": "black", "strokeWidth": 2, "opacity": 1}},
     {"data": {"name": "tsC"}, "mark": {"type": "errorbar", "ticks": {"size": 6, "thickness": 1.2}, "thickness": 1.2, "color": "black"}, "encoding": {"yError": {"field": "e"}}},
     {"data": {"name": "tsC"}, "mark": {"type": "point", "filled": true, "strokeWidth": 1.2, "size": 42, "opacity": 1}, "encoding": {
       "fill": {"field": "s", "type": "nominal", "scale": {"domain": ["Rap+OXT", "Asc+OXT"], "range": ["white", "black"]}, "legend": {"title": null, "orient": "top-right", "offset": 0}},
       "stroke": {"field": "s", "type": "nominal", "scale": {"domain": ["Rap+OXT", "Asc+OXT"], "range": ["black", "black"]}, "legend": {"title": null, "orient": "top-right", "offset": 0}},
       "shape": {"field": "s", "type": "nominal", "scale": {"domain": ["Rap+OXT", "Asc+OXT"], "range": ["diamond", "diamond"]}, "legend": {"title": null, "orient": "top-right", "offset": 0}}}},
     {"data": {"name": "ann"}, "transform": [{"filter": "datum.p=='C' && datum.k=='big'"}], "mark": {"type": "text", "fontSize": 16, "align": "center", "baseline": "middle"}, "encoding": {"text": {"field": "txt"}}},
     {"data": {"name": "ann"}, "transform": [{"filter": "datum.p=='C' && datum.k=='n'"}], "mark": {"type": "text", "fontSize": 12, "align": "center", "baseline": "middle"}, "encoding": {"text": {"field": "txt"}}},
     {"data": {"name": "ann"}, "transform": [{"filter": "datum.p=='C' && datum.k=='sc'"}], "mark": {"type": "text", "fontSize": 11, "align": "center", "baseline": "middle"}, "encoding": {"text": {"field": "txt"}}},
     {"data": {"name": "ann"}, "transform": [{"filter": "datum.p=='C' && datum.k=='sl'"}], "mark": {"type": "text", "fontSize": 11, "align": "left", "baseline": "middle"}, "encoding": {"text": {"field": "txt"}}},
     {"data": {"name": "ann"}, "transform": [{"filter": "datum.p=='C' && datum.k=='sr'"}], "mark": {"type": "text", "fontSize": 11, "align": "right", "baseline": "middle"}, "encoding": {"text": {"field": "txt"}}}
    ]
   },
   {
    "title": "D", "width": 280, "height": 191,
    "layer": [
     {
      "data": {"name": "bars"},
      "encoding": {
       "x": {"field": "g", "type": "nominal", "scale": {"domain": ["Vehicle", "Vehicle+OXT", "Chx", "Ani", "Act-D", "Rap", "Asc"], "paddingInner": 0.27, "paddingOuter": 0.2}, "axis": {"title": null, "labelAngle": -45, "labelFontWeight": "bold", "labelFontSize": 17, "ticks": false, "labelPadding": 4, "labelExpr": "replace(datum.label, '+OXT', '')"}},
       "y": {"field": "m", "type": "quantitative", "scale": {"domain": [60, 160], "nice": false, "zero": false}, "axis": {"values": [60, 80, 100, 120, 140, 160], "tickCount": 6, "labelOverlap": false, "title": "fEPSP slope (% of baseline)"}}
      },
      "layer": [
       {"mark": {"type": "rule", "strokeWidth": 2, "color": "black"}, "encoding": {"y2": {"field": "hi"}}},
       {"mark": {"type": "tick", "size": 9, "thickness": 2, "color": "black"}, "encoding": {"y": {"field": "hi", "type": "quantitative", "scale": {"domain": [60, 160], "nice": false, "zero": false}, "axis": {"values": [60, 80, 100, 120, 140, 160], "tickCount": 6, "labelOverlap": false, "title": "fEPSP slope (% of baseline)"}}}},
       {"mark": {"type": "bar", "fill": "white", "stroke": "black", "strokeWidth": 2}, "encoding": {"y2": {"datum": 60}}},
       {"transform": [{"filter": "!datum.star"}], "mark": {"type": "text", "fontSize": 12, "baseline": "bottom", "dy": -3}, "encoding": {"y": {"field": "hi", "type": "quantitative", "scale": {"domain": [60, 160], "nice": false, "zero": false}, "axis": {"values": [60, 80, 100, 120, 140, 160], "tickCount": 6, "labelOverlap": false, "title": "fEPSP slope (% of baseline)"}}, "text": {"field": "n"}}},
       {"transform": [{"filter": "datum.star"}], "mark": {"type": "text", "fontSize": 12, "baseline": "bottom", "dy": -12}, "encoding": {"y": {"field": "hi", "type": "quantitative", "scale": {"domain": [60, 160], "nice": false, "zero": false}, "axis": {"values": [60, 80, 100, 120, 140, 160], "tickCount": 6, "labelOverlap": false, "title": "fEPSP slope (% of baseline)"}}, "text": {"field": "n"}}},
       {"transform": [{"filter": "datum.star"}], "mark": {"type": "text", "fontSize": 21, "baseline": "alphabetic", "dy": 8}, "encoding": {"y": {"field": "hi", "type": "quantitative", "scale": {"domain": [60, 160], "nice": false, "zero": false}, "axis": {"values": [60, 80, 100, 120, 140, 160], "tickCount": 6, "labelOverlap": false, "title": "fEPSP slope (% of baseline)"}}, "text": {"value": "*"}}},
       {"mark": {"type": "rule", "strokeDash": [2, 2], "strokeWidth": 1.5, "color": "black"}, "encoding": {"x": {"value": 0}, "x2": {"value": 280}, "y": {"datum": 100, "type": "quantitative", "scale": {"domain": [60, 160], "nice": false, "zero": false}, "axis": {"values": [60, 80, 100, 120, 140, 160], "tickCount": 6, "labelOverlap": false, "title": "fEPSP slope (% of baseline)"}}}},
       {"mark": {"type": "rule", "strokeWidth": 2, "color": "black"}, "encoding": {"x": {"datum": "Vehicle+OXT", "type": "nominal", "bandPosition": 0, "scale": {"domain": ["Vehicle", "Vehicle+OXT", "Chx", "Ani", "Act-D", "Rap", "Asc"], "paddingInner": 0.27, "paddingOuter": 0.2}}, "x2": {"datum": "Asc", "bandPosition": 1}, "y": {"datum": 28.6, "type": "quantitative", "scale": {"domain": [60, 160], "nice": false, "zero": false}, "axis": {"values": [60, 80, 100, 120, 140, 160], "tickCount": 6, "labelOverlap": false, "title": "fEPSP slope (% of baseline)"}}}},
       {"mark": {"type": "text", "fontSize": 17, "baseline": "middle"}, "encoding": {"x": {"datum": "Act-D", "type": "nominal", "bandPosition": 0, "scale": {"domain": ["Vehicle", "Vehicle+OXT", "Chx", "Ani", "Act-D", "Rap", "Asc"], "paddingInner": 0.27, "paddingOuter": 0.2}}, "y": {"datum": 22.8, "type": "quantitative", "scale": {"domain": [60, 160], "nice": false, "zero": false}, "axis": {"values": [60, 80, 100, 120, 140, 160], "tickCount": 6, "labelOverlap": false, "title": "fEPSP slope (% of baseline)"}}, "text": {"value": "OXT"}}}
      ]
     }
    ]
   }
  ]
 }
]
}
